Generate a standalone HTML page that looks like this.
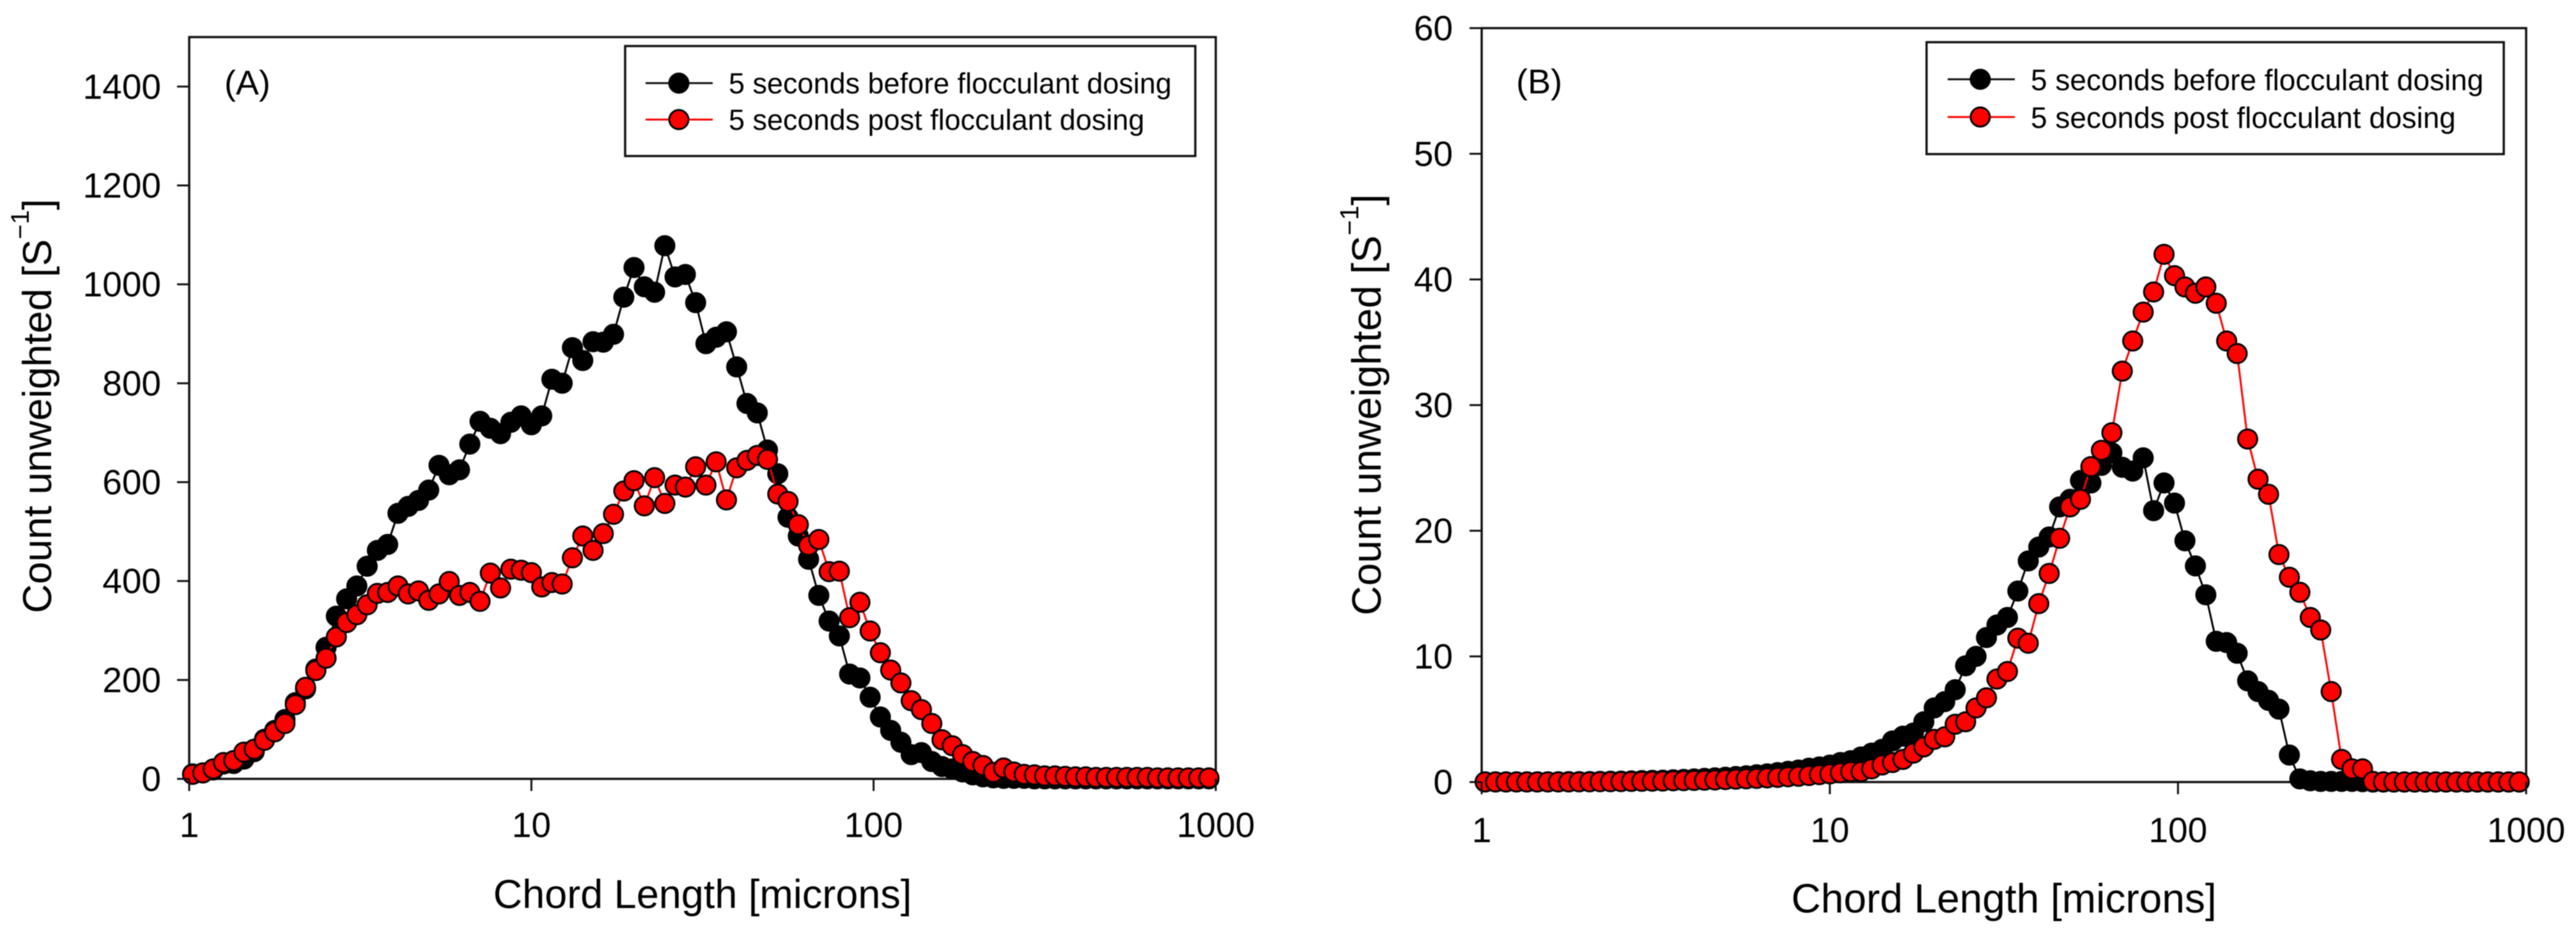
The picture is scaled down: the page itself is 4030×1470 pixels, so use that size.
<!DOCTYPE html>
<html lang="en">
<head>
<meta charset="utf-8">
<title>Chord length distributions before and after flocculant dosing</title>
<style>
html,body{margin:0;padding:0;background:#fff;}
#figure{display:block;width:4030px;height:1470px;filter:blur(0.9px);font-family:"Liberation Sans",Arial,sans-serif;fill:#000;}
</style>
</head>
<body>
<svg id="figure" xmlns="http://www.w3.org/2000/svg" width="4030" height="1470" viewBox="0 0 4030 1470">
  <rect x="0" y="0" width="4030" height="1470" fill="#fff"/>

  <g id="panel-a">
    <rect x="296" y="58" width="1606" height="1160" fill="none" stroke="#111" stroke-width="3.5"/>
    <g id="marks-a"></g>
    <g id="axes-a"></g>
    <text x="351" y="148" font-size="54">(A)</text>
    <text x="1099" y="1420" font-size="63" text-anchor="middle">Chord Length [microns]</text>
    <text x="80" y="635" font-size="63" text-anchor="middle" transform="rotate(-90 80 635)">Count unweighted [S<tspan dy="-35" font-size="40">−1</tspan><tspan dy="35">]</tspan></text>
    <g>
      <rect x="978" y="72" width="892" height="172" fill="#fff" stroke="#111" stroke-width="3.5"/>
      <line x1="1010" y1="130" x2="1115" y2="130" stroke="#111" stroke-width="3"/>
      <circle cx="1062" cy="130" r="15" fill="#000" stroke="#000" stroke-width="3"/>
      <text x="1140" y="146" font-size="45">5 seconds before flocculant dosing</text>
      <line x1="1010" y1="187" x2="1115" y2="187" stroke="#f00" stroke-width="3"/>
      <circle cx="1062" cy="187" r="15" fill="#f00" stroke="#000" stroke-width="3"/>
      <text x="1140" y="203" font-size="45">5 seconds post flocculant dosing</text>
    </g>
  </g>

  <g id="panel-b">
    <rect x="2318" y="44" width="1634" height="1179" fill="none" stroke="#111" stroke-width="3.5"/>
    <g id="marks-b"></g>
    <g id="axes-b"></g>
    <text x="2372" y="146" font-size="54">(B)</text>
    <text x="3135" y="1427" font-size="64" text-anchor="middle">Chord Length [microns]</text>
    <text x="2160" y="633" font-size="64" text-anchor="middle" transform="rotate(-90 2160 633)">Count unweighted [S<tspan dy="-35" font-size="41">−1</tspan><tspan dy="35">]</tspan></text>
    <g>
      <rect x="3014" y="66" width="903" height="175" fill="#fff" stroke="#111" stroke-width="3.5"/>
      <line x1="3047" y1="124" x2="3152" y2="124" stroke="#111" stroke-width="3"/>
      <circle cx="3098" cy="124" r="15" fill="#000" stroke="#000" stroke-width="3"/>
      <text x="3177" y="141" font-size="46">5 seconds before flocculant dosing</text>
      <line x1="3047" y1="183" x2="3152" y2="183" stroke="#f00" stroke-width="3"/>
      <circle cx="3098" cy="183" r="15" fill="#f00" stroke="#000" stroke-width="3"/>
      <text x="3177" y="200" font-size="46">5 seconds post flocculant dosing</text>
    </g>
  </g>
</svg>

<script>
var chordLengths = [
  1.023,1.096,1.175,1.259,1.349,1.445,1.549,1.660,1.778,1.905,
  2.042,2.188,2.344,2.512,2.692,2.884,3.090,3.311,3.548,3.802,
  4.074,4.365,4.677,5.012,5.370,5.754,6.166,6.607,7.079,7.586,
  8.128,8.710,9.333,10.00,10.72,11.48,12.30,13.18,14.13,15.14,
  16.22,17.38,18.62,19.95,21.38,22.91,24.55,26.30,28.18,30.20,
  32.36,34.67,37.15,39.81,42.66,45.71,48.98,52.48,56.23,60.26,
  64.57,69.18,74.13,79.43,85.11,91.20,97.72,104.7,112.2,120.2,
  128.8,138.0,147.9,158.5,169.8,182.0,195.0,208.9,223.9,239.9,
  257.0,275.4,295.1,316.2,338.8,363.1,389.0,416.9,446.7,478.6,
  512.9,549.5,588.8,631.0,676.1,724.4,776.2,831.8,891.3,955.0
];
var beforeCountsA = [
  10,12,18,30,31,40,55,80,98,120,
  154,182,222,266,329,364,390,430,462,474,
  537,551,563,584,634,615,625,677,723,709,
  698,721,734,716,734,808,800,872,846,884,
  883,899,974,1034,995,984,1078,1015,1020,963,
  880,893,904,833,759,740,665,617,529,491,
  444,371,319,289,212,204,165,125,98,74,
  49,53,35,25,20,14,8,4,2,1,
  1,1,0,0,0,0,0,0,0,0,
  0,0,0,0,0,0,0,0,0,0
];
var postCountsA = [
  9,12,20,33,37,54,60,78,95,112,
  150,185,219,244,287,316,332,352,375,377,
  390,374,380,361,374,399,371,377,359,416,
  386,424,422,417,388,397,394,447,491,462,
  496,535,582,603,552,609,557,594,590,631,
  594,641,564,629,644,654,646,576,561,514,
  472,484,419,420,326,357,299,255,220,194,
  158,140,112,79,67,49,35,27,13,22,
  14,9,8,6,6,5,4,4,3,3,
  3,3,3,3,2,2,2,2,2,2
];
var beforeCountsB = [
  0.01,0.01,0.01,0.01,0.01,0.01,0.01,0.02,0.03,0.03,
  0.04,0.05,0.06,0.07,0.09,0.11,0.13,0.15,0.18,0.21,
  0.25,0.29,0.33,0.38,0.44,0.5,0.58,0.65,0.75,0.85,
  0.95,1.1,1.2,1.35,1.55,1.7,2.0,2.3,2.6,3.27,
  3.65,3.9,4.8,5.9,6.4,7.35,9.25,10,11.5,12.5,
  13.1,15.2,17.6,18.7,19.5,21.9,22.5,24,23.8,25.2,
  26.2,25.05,24.75,25.8,21.6,23.8,22.2,19.2,17.2,14.9,
  11.2,11.1,10.25,8.05,7.2,6.5,5.8,2.15,0.25,0.1,
  0.05,0.05,0.05,0.05,0.03,0,0,0,0,0,
  0,0,0,0,0,0,0,0,0,0
];
var postCountsB = [
  0.01,0.01,0.01,0.01,0.01,0.01,0.01,0.01,0.01,0.02,
  0.02,0.03,0.03,0.04,0.05,0.06,0.07,0.08,0.1,0.11,
  0.13,0.15,0.17,0.2,0.23,0.26,0.29,0.33,0.37,0.42,
  0.46,0.52,0.59,0.65,0.74,0.83,0.83,1.05,1.36,1.55,
  1.8,2.3,2.8,3.4,3.6,4.6,4.8,5.9,6.7,8.2,
  8.8,11.45,11.05,14.2,16.6,19.4,21.9,22.5,25.1,26.4,
  27.8,32.7,35.1,37.4,39.0,42.0,40.3,39.4,38.9,39.4,
  38.1,35.1,34.1,27.3,24.1,22.9,18.1,16.3,15.1,13.1,
  12.1,7.2,1.8,1.05,1.05,0.05,0.02,0.01,0.01,0.01,
  0.01,0.01,0.01,0.01,0.01,0.01,0.01,0.01,0.01,0.01
];
var xTickLabels = [1, 10, 100, 1000];
var yTickLabelsA = [0, 200, 400, 600, 800, 1000, 1200, 1400];
var yTickLabelsB = [0, 10, 20, 30, 40, 50, 60];

var SVG_NS = 'http://www.w3.org/2000/svg';

function makeXScale(left, right) {
  return function (value) {
    return left + (Math.log(value) / Math.LN10) * (right - left) / 3;
  };
}
function makeYScale(bottom, top, maxValue) {
  return function (value) {
    return bottom - (value / maxValue) * (bottom - top);
  };
}

function drawSeries(group, xValues, yValues, xScale, yScale, lineColor, fillColor, name) {
  var polyline = document.createElementNS(SVG_NS, 'polyline');
  
  
  var pts = [];
  for (var i = 0; i < xValues.length; i++) {
    pts.push(xScale(xValues[i]).toFixed(1) + ',' + yScale(yValues[i]).toFixed(1));
  }
  polyline.setAttribute('points', pts.join(' '));
  polyline.setAttribute('fill', 'none');
  polyline.setAttribute('stroke', lineColor);
  polyline.setAttribute('stroke-width', '3');
  group.appendChild(polyline);
  for (var j = 0; j < xValues.length; j++) {
    var point = document.createElementNS(SVG_NS, 'circle');
    
    
    point.setAttribute('cx', xScale(xValues[j]).toFixed(1));
    point.setAttribute('cy', yScale(yValues[j]).toFixed(1));
    point.setAttribute('r', '15');
    point.setAttribute('fill', fillColor);
    point.setAttribute('stroke', '#000');
    point.setAttribute('stroke-width', '3');
    group.appendChild(point);
  }
}

function drawAxes(group, xScale, yScale, axisLeft, axisBottom, yLabels, yLabelRight, xLabelBaseline, suffix) {
  xTickLabels.forEach(function (tick) {
    var x = xScale(tick);
    var mark = document.createElementNS(SVG_NS, 'line');
    
    
    mark.setAttribute('x1', x);
    mark.setAttribute('x2', x);
    mark.setAttribute('y1', axisBottom);
    mark.setAttribute('y2', axisBottom + 19);
    mark.setAttribute('stroke', '#111');
    mark.setAttribute('stroke-width', '3');
    group.appendChild(mark);
    var label = document.createElementNS(SVG_NS, 'text');
    
    
    label.setAttribute('x', x);
    label.setAttribute('y', xLabelBaseline);
    label.setAttribute('font-size', '55');
    label.setAttribute('text-anchor', 'middle');
    label.textContent = tick;
    group.appendChild(label);
  });
  yLabels.forEach(function (tick) {
    var y = yScale(tick);
    var mark = document.createElementNS(SVG_NS, 'line');
    
    
    mark.setAttribute('x1', axisLeft - 19);
    mark.setAttribute('x2', axisLeft);
    mark.setAttribute('y1', y);
    mark.setAttribute('y2', y);
    mark.setAttribute('stroke', '#111');
    mark.setAttribute('stroke-width', '3');
    group.appendChild(mark);
    var label = document.createElementNS(SVG_NS, 'text');
    
    
    label.setAttribute('x', yLabelRight);
    label.setAttribute('y', y + 19);
    label.setAttribute('font-size', '55');
    label.setAttribute('text-anchor', 'end');
    label.textContent = tick;
    group.appendChild(label);
  });
}

var xScaleA = makeXScale(296, 1902);
var yScaleA = makeYScale(1218, 58, 1500);
var xScaleB = makeXScale(2318, 3952);
var yScaleB = makeYScale(1223, 44, 60);

var marksA = document.getElementById('marks-a');
drawSeries(marksA, chordLengths, beforeCountsA, xScaleA, yScaleA, '#000', '#000', 'before-dosing-a');
drawSeries(marksA, chordLengths, postCountsA, xScaleA, yScaleA, '#f00', '#f00', 'post-dosing-a');
drawAxes(document.getElementById('axes-a'), xScaleA, yScaleA, 296, 1218, yTickLabelsA, 252, 1309, 'a');

var marksB = document.getElementById('marks-b');
drawSeries(marksB, chordLengths, beforeCountsB, xScaleB, yScaleB, '#000', '#000', 'before-dosing-b');
drawSeries(marksB, chordLengths, postCountsB, xScaleB, yScaleB, '#f00', '#f00', 'post-dosing-b');
drawAxes(document.getElementById('axes-b'), xScaleB, yScaleB, 2318, 1223, yTickLabelsB, 2273, 1317, 'b');
</script>
</body>
</html>
